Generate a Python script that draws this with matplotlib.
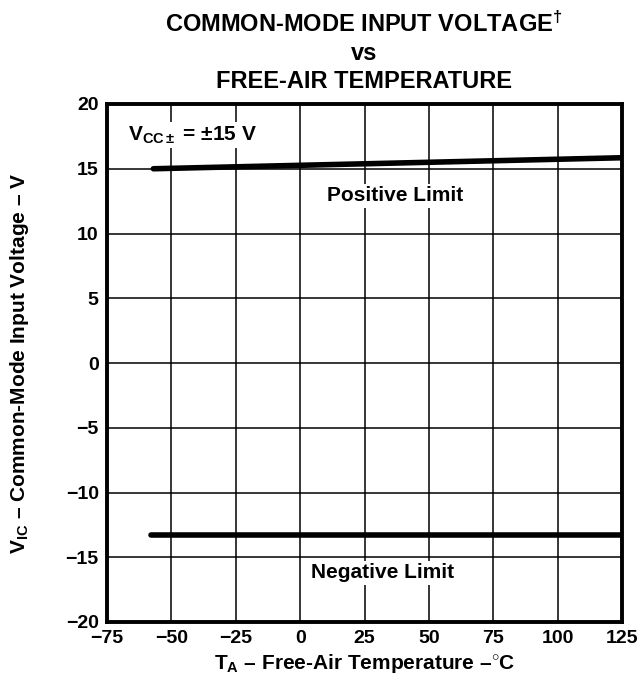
import matplotlib
matplotlib.use("Agg")
import matplotlib.pyplot as plt

plt.rcParams['font.family'] = ['Liberation Sans', 'DejaVu Sans']
plt.rcParams['font.weight'] = 'bold'
plt.rcParams['mathtext.fontset'] = 'custom'
plt.rcParams['mathtext.rm'] = 'Liberation Sans:bold'
plt.rcParams['mathtext.it'] = 'Liberation Sans:bold'
plt.rcParams['mathtext.bf'] = 'Liberation Sans:bold'

# data
temp_pos = [-57, 125]
vic_pos = [15.0, 15.85]
temp_neg = [-58, 125]
vic_neg = [-13.3, -13.3]

xticks = [-75, -50, -25, 0, 25, 50, 75, 100, 125]
xlabels = ['\u221275', '\u221250', '\u221225', '0', '25', '50', '75', '100', '125']
yticks = [-20, -15, -10, -5, 0, 5, 10, 15, 20]
ylabels = ['\u221220', '\u221215', '\u221210', '\u22125', '0', '5', '10', '15', '20']

fig = plt.figure(figsize=(6.42, 6.75), dpi=100)
ax = fig.add_axes([107/642, 1 - 622/675, 515/642, 518/675])

ax.set_xlim(-75, 125)
ax.set_ylim(-20, 20)
ax.set_xticks(xticks)
ax.set_xticklabels(xlabels)
ax.set_yticks(yticks)
ax.set_yticklabels(ylabels)
ax.tick_params(length=0, labelsize=14, pad=6)
for lab in ax.get_xticklabels() + ax.get_yticklabels():
    lab.set_fontweight('bold')
ax.grid(True, color='black', linewidth=1.1)
ax.set_axisbelow(True)
for sp in ax.spines.values():
    sp.set_linewidth(2.8)

ax.plot(temp_pos, vic_pos, color='black', linewidth=4, solid_capstyle='round', zorder=3)
ax.plot(temp_neg, vic_neg, color='black', linewidth=4, solid_capstyle='round', zorder=3)

box = dict(facecolor='white', edgecolor='none', pad=2)
ax.text(-67, 17.6, r'V$_{CC\pm}$ = $\pm$15 V', fontsize=15, fontweight='bold',
        ha='left', va='center', bbox=box, zorder=4)
ax.text(37, 12.9, 'Positive Limit', fontsize=15, fontweight='bold',
        ha='center', va='center', bbox=box, zorder=4)
ax.text(32, -16.2, 'Negative Limit', fontsize=15, fontweight='bold',
        ha='center', va='center', bbox=box, zorder=4)

ax.set_xlabel('T$_A$ \u2013 Free-Air Temperature \u2013$^{\\circ}$C',
              fontsize=15, fontweight='bold')
ax.set_ylabel('V$_{IC}$ \u2013 Common-Mode Input Voltage \u2013 V',
              fontsize=15, fontweight='bold')
ax.xaxis.set_label_coords(0.5, -0.058)
ax.yaxis.set_label_coords(-0.148, 0.5)

fig.text(364/642, 1 - 24/675, r'COMMON-MODE INPUT VOLTAGE$^{\dagger}$', fontsize=17,
         fontweight='bold', ha='center', va='center')
fig.text(364/642, 1 - 53/675, 'vs', fontsize=17, fontweight='bold', ha='center', va='center')
fig.text(364/642, 1 - 82/675, 'FREE-AIR TEMPERATURE', fontsize=17, fontweight='bold',
         ha='center', va='center')

fig.savefig('out.png', dpi=100)
